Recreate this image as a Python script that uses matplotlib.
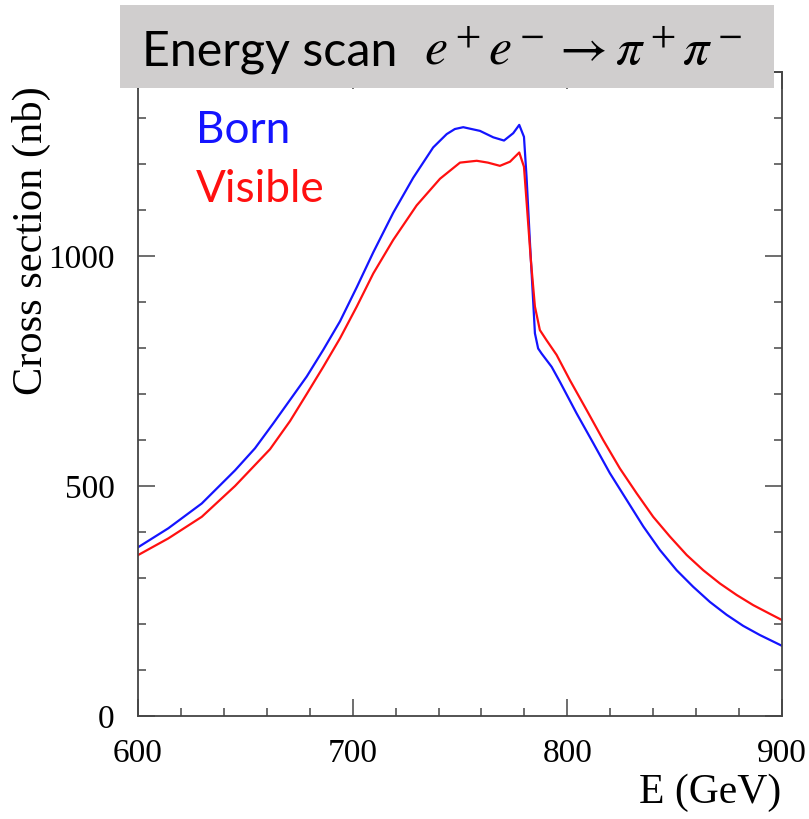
import numpy as np
import matplotlib
matplotlib.use('Agg')
import matplotlib.pyplot as plt
from matplotlib.patches import Rectangle

plt.rcParams['mathtext.fontset'] = 'stix'

# Born cross section
born_E = [600.1, 614.1, 629.7, 645.2, 654.5, 663.0, 670.8, 678.6, 686.3, 694.1,
          701.9, 709.6, 718.9, 728.2, 737.5, 743.8, 747.6, 751.5, 759.3, 765.5,
          770.5, 774.8, 777.6, 779.8, 781.0, 782.6, 783.8, 784.9, 786.4, 788.0,
          792.7, 796.6, 804.3, 812.1, 819.8, 827.6, 835.4, 843.1, 850.9, 858.6,
          866.4, 874.2, 881.9, 889.7, 899.8]
born_xs = [367, 408, 462, 534, 582, 636, 687, 738, 796, 858,
           932, 1008, 1094, 1170, 1236, 1265, 1276, 1280, 1272, 1258,
           1251, 1267, 1285, 1259, 1172, 1028, 926, 832, 799, 788,
           759, 726, 658, 593, 528, 470, 412, 361, 317, 281,
           248, 220, 196, 176, 153]

# Visible cross section
vis_E = [600.1, 614.1, 629.7, 645.2, 661.5, 670.8, 678.6, 686.3, 694.1, 701.9,
         709.6, 718.9, 729.8, 740.7, 750.0, 757.8, 763.0, 768.6, 773.3, 777.6,
         779.8, 781.3, 783.0, 784.9, 787.2, 790.3, 795.0, 801.2, 809.0, 816.7,
         824.5, 832.3, 840.0, 847.8, 855.6, 863.3, 871.1, 878.9, 886.6, 894.4,
         899.8]
vis_xs = [350, 386, 433, 500, 580, 641, 700, 759, 821, 890,
          962, 1035, 1110, 1168, 1203, 1207, 1203, 1196, 1205, 1225,
          1194, 1100, 991, 890, 839, 817, 785, 730, 665, 600,
          538, 484, 433, 390, 350, 317, 288, 263, 241, 222,
          209]

x_ticks = [600, 700, 800, 900]
y_ticks = [0, 500, 1000]

W, H = 809, 819
fig = plt.figure(figsize=(W / 100, H / 100), dpi=100)

def fx(p):
    return p / W

def fy(p):
    return 1 - p / H

ax = fig.add_axes([fx(138), fy(716), (782 - 138) / W, (716 - 72) / H])
ax.plot(born_E, born_xs, color='#1414ff', lw=1.6, solid_joinstyle='round')
ax.plot(vis_E, vis_xs, color='#ff1010', lw=1.6, solid_joinstyle='round')

ax.set_xlim(600, 900)
ax.set_ylim(0, 1400)
ax.set_xticks(x_ticks)
ax.set_yticks(y_ticks)
ax.set_xticks(np.arange(600, 901, 20), minor=True)
ax.set_yticks(np.arange(0, 1401, 100), minor=True)
ax.tick_params(which='both', direction='in', top=True, right=True, color='#555555', width=1.2)
ax.tick_params(which='major', length=12)
ax.tick_params(which='minor', length=6)
ax.tick_params(axis='x', pad=16)
ax.tick_params(axis='y', pad=17)
for lab in ax.get_xticklabels() + ax.get_yticklabels():
    lab.set_fontfamily('Liberation Serif')
    lab.set_fontsize(24)
for s in ax.spines.values():
    s.set_color('#444444')
    s.set_linewidth(1.3)

fig.text(fx(781), fy(803), 'E (GeV)', ha='right', va='baseline',
         family='Liberation Serif', fontsize=30)
fig.text(fx(31), fy(241), 'Cross section (nb)', ha='center', va='center', rotation=90,
         family='Liberation Serif', fontsize=30.5)

# title box on top of the frame
fig.patches.append(Rectangle((fx(120), fy(88)), (774 - 120) / W, (88 - 5) / H,
                             transform=fig.transFigure, facecolor='#d0cece',
                             edgecolor='none', zorder=5))
fig.text(fx(142), fy(65), 'Energy scan', ha='left', va='baseline',
         family='Lato', fontsize=34.8, zorder=6)
fig.text(fx(424), fy(65), r'$e^+e^-\rightarrow\pi^+\pi^-$', ha='left', va='baseline',
         fontsize=37.5, zorder=6)

fig.text(fx(196), fy(143), 'Born', ha='left', va='baseline',
         family='Lato', fontsize=31.8, color='#1414ff')
fig.text(fx(196), fy(202), 'Visible', ha='left', va='baseline',
         family='Lato', fontsize=31.8, color='#ff1010')

fig.savefig('out.png', dpi=100)
